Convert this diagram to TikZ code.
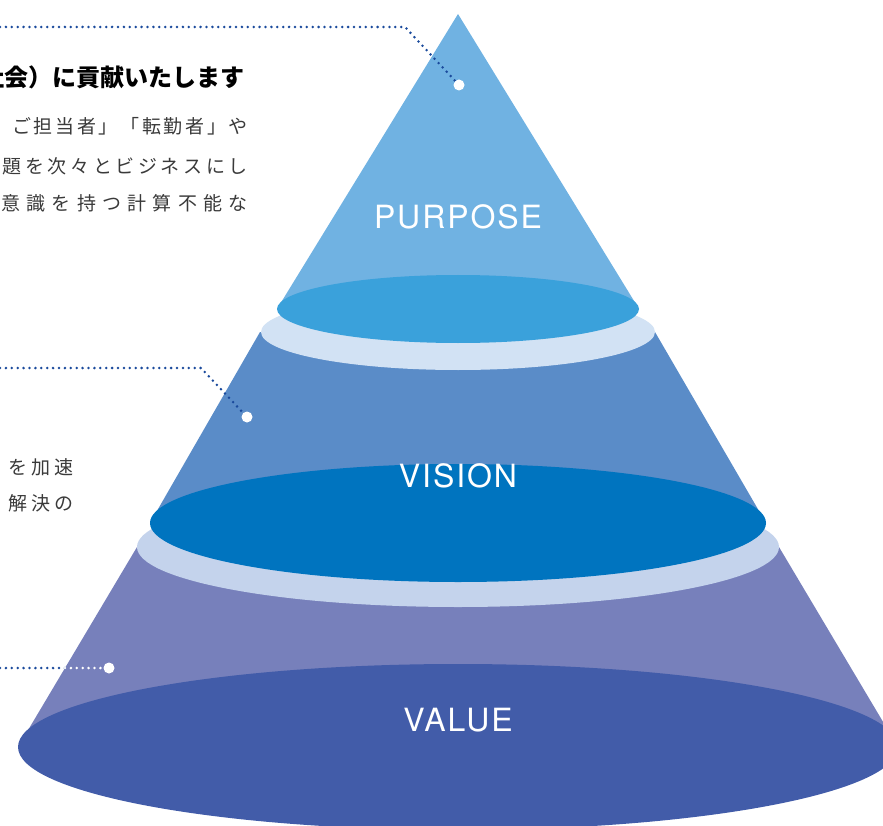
\documentclass[tikz,border=0pt]{standalone}
\usepackage{fontspec}
\newfontfamily\labelfont[LetterSpace=6]{TeX Gyre Heros}
\newfontfamily\jpfont{Noto Sans CJK JP}
\newfontfamily\jpheadfont{Noto Sans CJK JP}
\definecolor{purposeside}{HTML}{70B2E2}
\definecolor{purposedisc}{HTML}{3AA1DB}
\definecolor{visionside}{HTML}{5A8CC8}
\definecolor{visiondisc}{HTML}{0074BF}
\definecolor{valueside}{HTML}{7780BB}
\definecolor{valuedisc}{HTML}{425CA9}
\definecolor{ringtop}{HTML}{D2E2F4}
\definecolor{ringlow}{HTML}{C4D3EC}
\definecolor{leaderblue}{HTML}{1A4A9C}
\definecolor{bodygray}{HTML}{3A3A3A}

\begin{document}
\begin{tikzpicture}
[x=1pt,y=-1pt,%
  leaderLine/.style={line width=2.8pt,line cap=round,dash pattern=on 0pt off 5.9pt},%
  dotDecorate/.style={shape=circle,fill=white,inner sep=0pt,minimum size=11pt},%
  levelLabel/.style={text=white,anchor=base,font=\labelfont\fontsize{32}{32}\selectfont},%
  bodyText/.style={text=bodygray,anchor=east,inner sep=0pt,font=\jpfont\fontsize{19}{19}\selectfont},%
  headText/.style={text=black,anchor=east,inner sep=0pt,font=\jpheadfont\bfseries\fontsize{24}{24}\selectfont}]
\useasboundingbox (0,0) rectangle (883,826);
\clip (0,0) rectangle (883,826);
%% bottom cone
\fill[valueside] (137,547) -- (779,547) -- (898,747) -- (18,747) -- cycle;
\fill[valuedisc] (458,747) ellipse [x radius=440, y radius=83];
\fill[ringlow] (458,547) ellipse [x radius=321, y radius=60];
%% middle cone
\fill[visionside] (260,332) -- (655,332) -- (766,523) -- (150,523) -- cycle;
\fill[visiondisc] (458,523) ellipse [x radius=308, y radius=59];
\fill[ringtop] (458,332) ellipse [x radius=197, y radius=38];
%% top cone
\fill[purposeside] (458,14) -- (639,309) -- (277,309) -- cycle;
\fill[purposedisc] (458,309) ellipse [x radius=181, y radius=34];
%% level names
\foreach \nodename/\y/\txt in {purpose/229/PURPOSE, vision/487/VISION, value/731/VALUE}
{
  \node (\nodename Label) at (458,\y) [levelLabel] {\txt};
}
%% white dots
\foreach \nodename/\x/\y in {purpose/459/85, vision/247/417, value/109/668}
{
  \node (\nodename Dot) at (\x,\y) [dotDecorate] {};
}
%% leader lines
\coordinate (purposeStart) at (0,27);
\coordinate (purposeBend) at (405,27);
\coordinate (visionStart) at (0,368);
\coordinate (visionBend) at (201,368);
\coordinate (valueStart) at (0,668);
\coordinate (valueEdge) at (65,668);
\draw[leaderLine,leaderblue] (purposeStart) -- (purposeBend) -- (purposeDot);
\draw[leaderLine,leaderblue] (visionStart) -- (visionBend) -- (visionDot);
\draw[leaderLine,leaderblue] (valueStart) -- (valueEdge);
\draw[leaderLine,white] (valueEdge) -- (valueDot);
%% texts
\node (purposeHead) at (245,77) [headText] {社会）に貢献いたします};
\foreach \nodename/\y/\sp/\txt in {purposeLineA/126/14/ご担当者」「転勤者」や,
  purposeLineB/166/19/題を次々とビジネスにし, purposeLineC/203/33/意識を持つ計算不能な,
  visionLineA/467/22/を加速, visionLineB/503/22/解決の}
{
  \node (\nodename) at (\ifnum\y>400 74\else 248\fi,\y) [bodyText] {\addfontfeature{LetterSpace=\sp}\txt};
}
\end{tikzpicture}
\end{document}
